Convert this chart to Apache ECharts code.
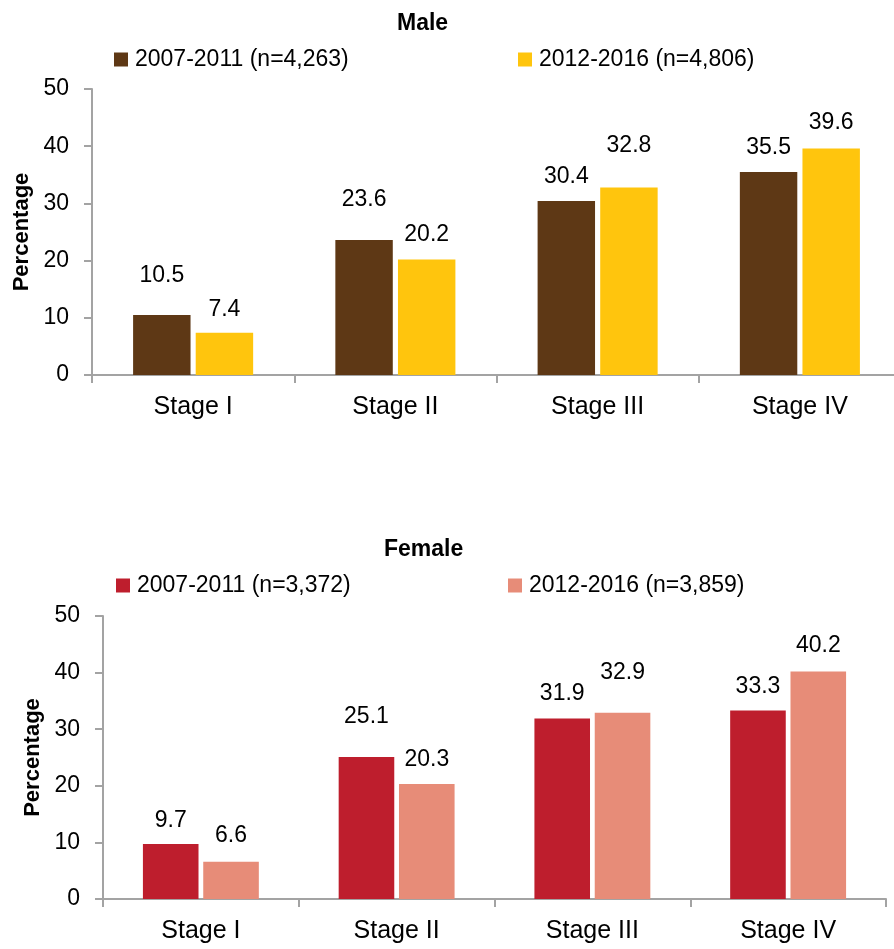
<!DOCTYPE html>
<html>
<head>
<meta charset="utf-8">
<script src="https://cdn.jsdelivr.net/npm/echarts@6/dist/echarts.min.js"></script>
<style>html,body{margin:0;padding:0;background:#fff}#c{width:894px;height:949px}</style>
</head>
<body>
<div id="c"></div>
<script>
// ---- data ----
const categories = ['Stage I', 'Stage II', 'Stage III', 'Stage IV'];
const maleName1 = '2007-2011 (n=4,263)';
const maleName2 = '2012-2016 (n=4,806)';
const femaleName1 = '2007-2011 (n=3,372)';
const femaleName2 = '2012-2016 (n=3,859)';
const male2007 = [10.5, 23.6, 30.4, 35.5];
const male2012 = [7.4, 20.2, 32.8, 39.6];
const female2007 = [9.7, 25.1, 31.9, 33.3];
const female2012 = [6.6, 20.3, 32.9, 40.2];
const yTicks = [0, 10, 20, 30, 40, 50];
// label distances above bars (style, kept apart from the values)
const maleGap1 = [28, 29, 13, 13];
const maleGap2 = [12, 13, 30, 14];
const femaleGap1 = [12, 29, 13, 12];
const femaleGap2 = [14, 13, 29, 14];

const FONT = "'Liberation Sans Narrow', 'Arial Narrow', 'Liberation Sans', Arial, sans-serif";
const FS = 23;
const axisGrey = '#A3A3A3';

function withGaps(vals, gaps) {
  return vals.map((v, i) => ({ value: v, label: { distance: gaps[i] } }));
}

function xAxisCfg(gridIndex) {
  return {
    type: 'category', gridIndex: gridIndex, data: categories,
    axisLine: { lineStyle: { color: axisGrey, width: 2 } },
    axisTick: { show: true, length: 8, lineStyle: { color: axisGrey, width: 2 } },
    axisLabel: { color: '#000', fontFamily: FONT, fontSize: 25, margin: 20 }
  };
}
function yAxisCfg(gridIndex) {
  return {
    type: 'value', gridIndex: gridIndex, min: yTicks[0], max: yTicks[yTicks.length - 1], interval: 10,
    name: 'Percentage', nameLocation: 'middle', nameGap: 52,
    nameTextStyle: { color: '#000', fontFamily: FONT, fontSize: 22, fontWeight: 'bold' },
    axisLine: { show: true, lineStyle: { color: axisGrey, width: 2 } },
    axisTick: { show: true, length: 8, lineStyle: { color: axisGrey, width: 2 } },
    axisLabel: { color: '#000', fontFamily: FONT, fontSize: FS, margin: 23 },
    splitLine: { show: false }
  };
}
function barSeries(name, vals, gaps, color, gi, gap) {
  return {
    type: 'bar', name: name, xAxisIndex: gi, yAxisIndex: gi,
    data: withGaps(vals, gaps), barWidth: '28.4%', barGap: gap,
    itemStyle: { color: color },
    label: { show: true, position: 'top', color: '#000', fontFamily: FONT, fontSize: FS,
      formatter: p => p.value.toFixed(1) },
    animation: false
  };
}
function legendCfg(name, left, top) {
  return {
    data: [name], left: left, top: top, padding: 0, itemWidth: 14, itemHeight: 14, itemGap: 5,
    icon: 'rect', selectedMode: false,
    textStyle: { color: '#000', fontFamily: FONT, fontSize: FS, padding: [0, 0, 0, 2] }
  };
}

const chart = echarts.init(document.getElementById('c'));
chart.setOption({
  animation: false,
  backgroundColor: '#fff',
  title: [
    { text: 'Male', left: 392, top: 7, textStyle: { fontFamily: FONT, fontSize: 23, fontWeight: 'bold', color: '#000' } },
    { text: 'Female', left: 379, top: 533, textStyle: { fontFamily: FONT, fontSize: 23, fontWeight: 'bold', color: '#000' } }
  ],
  legend: [
    legendCfg(maleName1, 114, 48),
    legendCfg(maleName2, 518, 48),
    legendCfg(femaleName1, 116, 574),
    legendCfg(femaleName2, 508, 574)
  ],
  grid: [
    { left: 92, right: -7, top: 89, height: 286, containLabel: false, outerBoundsMode: 'none' },
    { left: 103, right: 8, top: 616, height: 283, containLabel: false, outerBoundsMode: 'none' }
  ],
  xAxis: [xAxisCfg(0), xAxisCfg(1)],
  yAxis: [yAxisCfg(0), yAxisCfg(1)],
  series: [
    barSeries(maleName1, male2007, maleGap1, '#5E3815', 0, '9%'),
    barSeries(maleName2, male2012, maleGap2, '#FFC50D', 0, '9%'),
    barSeries(femaleName1, female2007, femaleGap1, '#BE1E2D', 1, '8.5%'),
    barSeries(femaleName2, female2012, femaleGap2, '#E78C78', 1, '8.5%')
  ]
});
</script>
</body>
</html>
